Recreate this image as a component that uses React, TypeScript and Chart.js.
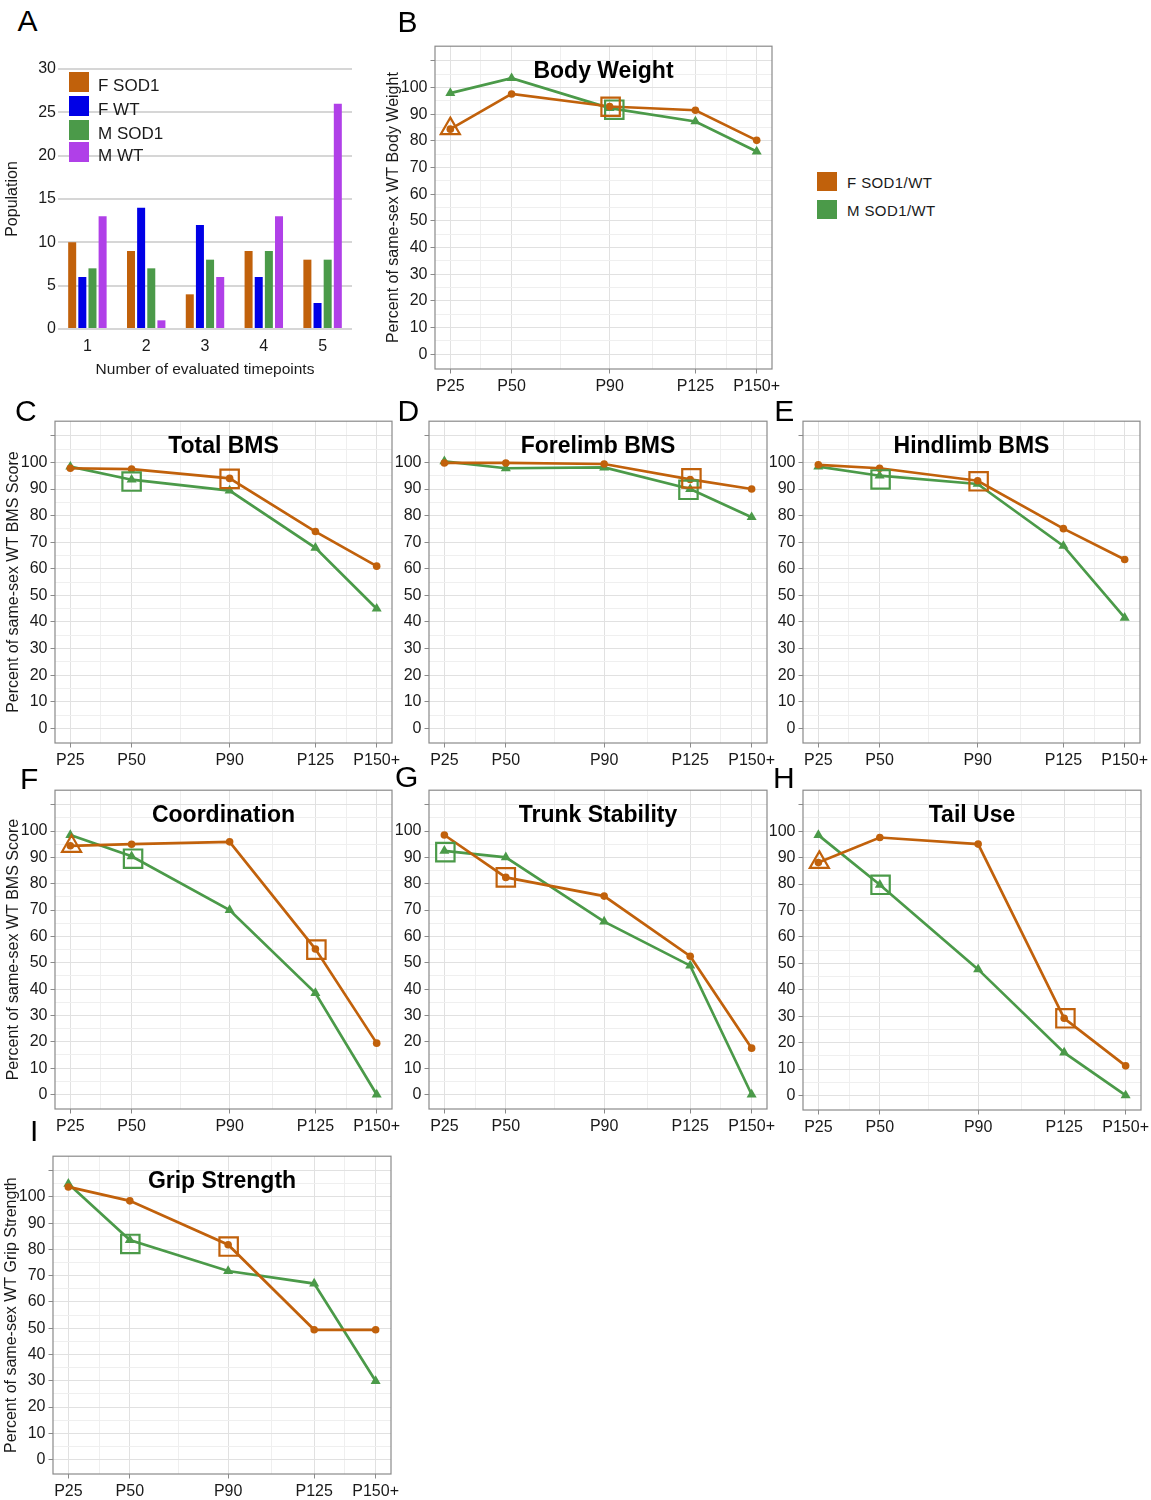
import React, { useEffect, useRef } from 'react';
import { Chart, registerables } from 'chart.js';

Chart.register(...registerables);

const FONT = '"Liberation Sans", Arial, Helvetica, sans-serif';
const ORANGE = '#c1610b';
const GREEN = '#4b9a49';
const BLUE = '#0000e6';
const PURPLE = '#b040e8';
const TEXT = '#1a1a1a';
const GRID_MAJOR = '#e1e1e1';
const GRID_MINOR = '#efefef';
const BORDER = '#8a8a8a';

Chart.defaults.font.family = FONT;
Chart.defaults.color = TEXT;

// ---------- Panel A data ----------
const popCategories = ['1', '2', '3', '4', '5'];
const popFSod1 = [10, 9, 4, 9, 8];
const popFWt = [6, 14, 12, 6, 3];
const popMSod1 = [7, 7, 8, 9, 8];
const popMWt = [13, 1, 6, 13, 26];
const popLegend = ['F SOD1', 'F WT', 'M SOD1', 'M WT'];

// ---------- Time axis ----------
const days = [25, 50, 90, 125, 150];
const dayLabels = ['P25', 'P50', 'P90', 'P125', 'P150+'];
const xTickValues = [25, 37.5, 50, 70, 90, 107.5, 125, 137.5, 150];
const yTickValues = [0, 5, 10, 15, 20, 25, 30, 35, 40, 45, 50, 55, 60, 65, 70, 75, 80, 85, 90, 95, 100, 105, 110];
const ratioLegend = ['F SOD1/WT', 'M SOD1/WT'];

// ---------- Series (percent of same-sex WT) ----------
const bodyWeightF = [84.4, 97.6, 92.9, 91.5, 80.2];
const bodyWeightM = [97.9, 103.5, 92.3, 87.3, 76.0];
const totalBmsF = [97.8, 97.5, 94.0, 74.0, 61.0];
const totalBmsM = [98.4, 93.5, 89.4, 67.9, 45.0];
const forelimbF = [99.8, 99.8, 99.4, 93.6, 90.0];
const forelimbM = [100.4, 97.8, 98.1, 90.0, 79.4];
const hindlimbF = [99.1, 97.8, 93.1, 75.1, 63.5];
const hindlimbM = [98.4, 95.0, 91.9, 68.6, 41.6];
const coordF = [94.4, 95.0, 95.9, 55.2, 19.5];
const coordM = [98.5, 90.4, 70.0, 38.5, 0];
const trunkF = [98.5, 82.4, 75.3, 52.5, 17.6];
const trunkM = [92.5, 90.0, 65.6, 48.9, 0];
const tailF = [88.1, 97.6, 95.1, 29.2, 11.2];
const tailM = [98.5, 79.7, 47.7, 16.2, 0];
const gripF = [103.8, 98.5, 81.8, 49.4, 49.4];
const gripM = [105.0, 83.6, 71.8, 67.0, 29.9];

// ---------- Significance markers ----------
type P = { x: number; y: number };
const bodyWeightFSq: P[] = [{ x: 90.4, y: 92.8 }];
const bodyWeightMSq: P[] = [{ x: 91.9, y: 91.7 }];
const bodyWeightFTri: P[] = [{ x: 25, y: 84.6 }];
const totalBmsFSq: P[] = [{ x: 90, y: 93.8 }];
const totalBmsMSq: P[] = [{ x: 50, y: 92.8 }];
const forelimbFSq: P[] = [{ x: 125.5, y: 94.0 }];
const forelimbMSq: P[] = [{ x: 124.3, y: 89.7 }];
const hindlimbFSq: P[] = [{ x: 90.4, y: 92.9 }];
const hindlimbMSq: P[] = [{ x: 50.4, y: 93.6 }];
const coordFSq: P[] = [{ x: 125.4, y: 55.0 }];
const coordMSq: P[] = [{ x: 50.6, y: 89.5 }];
const coordFTri: P[] = [{ x: 25.5, y: 94.2 }];
const trunkFSq: P[] = [{ x: 50, y: 82.4 }];
const trunkMSq: P[] = [{ x: 25.4, y: 92.0 }];
const tailFSq: P[] = [{ x: 125.5, y: 29.2 }];
const tailMSq: P[] = [{ x: 50.3, y: 79.7 }];
const tailFTri: P[] = [{ x: 25.4, y: 88.2 }];
const gripFSq: P[] = [{ x: 90.2, y: 81.1 }];
const gripMSq: P[] = [{ x: 50.2, y: 82.1 }];

const panelDecor = {
  id: 'panelDecor',
  afterDraw(chart: any, _args: any, opts: any) {
    const { ctx, chartArea } = chart;
    const { left, top, right, bottom } = chartArea;
    ctx.save();
    ctx.strokeStyle = BORDER;
    ctx.lineWidth = 1.2;
    ctx.strokeRect(left, top, right - left, bottom - top);
    if (opts && opts.title) {
      ctx.font = `bold 23px ${FONT}`;
      ctx.fillStyle = '#000';
      ctx.textAlign = 'center';
      ctx.textBaseline = 'alphabetic';
      ctx.fillText(opts.title, (left + right) / 2, top + 32);
    }
    ctx.restore();
  },
};

function CanvasChart({ left, top, width, height, makeConfig }: any) {
  const ref = useRef<HTMLCanvasElement>(null);
  useEffect(() => {
    const chart = new Chart(ref.current as HTMLCanvasElement, makeConfig());
    return () => chart.destroy();
  }, []);
  return (
    <canvas
      ref={ref}
      width={width}
      height={height}
      style={{ position: 'absolute', left, top, width, height }}
    />
  );
}

const AXIS_W = 54;
const AXIS_H = 36;
const PAD_T = 14;
const PAD_R = 25;

function markerSet(data: P[], color: string, style: string, radius: number) {
  return {
    type: 'line',
    data,
    showLine: false,
    pointStyle: style,
    pointRadius: radius,
    pointBorderWidth: 2.2,
    pointBorderColor: color,
    pointBackgroundColor: 'rgba(0,0,0,0)',
    borderColor: color,
  };
}

function LinePanel({ L, T, W, H, title, yTitle, f, m, fSq = [], mSq = [], fTri = [] }: any) {
  const makeConfig = () => {
    const toPts = (vals: number[]) => days.map((d, i) => ({ x: d, y: vals[i] }));
    return {
      type: 'line',
      data: {
        datasets: [
          markerSet(fSq, ORANGE, 'rect', 13),
          markerSet(mSq, GREEN, 'rect', 13),
          markerSet(fTri, ORANGE, 'triangle', 11),
          {
            data: toPts(f),
            borderColor: ORANGE,
            borderWidth: 2.7,
            pointStyle: 'circle',
            pointRadius: 3.8,
            pointBorderWidth: 0,
            pointBackgroundColor: ORANGE,
          },
          {
            data: toPts(m),
            borderColor: GREEN,
            borderWidth: 2.7,
            pointStyle: 'triangle',
            pointRadius: 5.8,
            pointBorderWidth: 0,
            pointBackgroundColor: GREEN,
          },
        ],
      },
      options: {
        responsive: false,
        animation: false,
        events: [],
        layout: { padding: { left: 0, top: PAD_T, right: PAD_R, bottom: 0 } },
        plugins: {
          legend: { display: false },
          tooltip: { enabled: false },
          panelDecor: { title },
        },
        scales: {
          x: {
            type: 'linear',
            min: 18.75,
            max: 156.25,
            afterBuildTicks: (s: any) => {
              s.ticks = xTickValues.map((v) => ({ value: v }));
            },
            afterFit: (s: any) => {
              s.height = AXIS_H;
            },
            ticks: {
              autoSkip: false,
              maxRotation: 0,
              minRotation: 0,
              padding: 3,
              color: TEXT,
              font: { family: FONT, size: 16 },
              callback: (v: number) => {
                const i = days.indexOf(v);
                return i >= 0 ? dayLabels[i] : '';
              },
            },
            grid: {
              color: (c: any) => (c.tick && days.includes(c.tick.value) ? GRID_MAJOR : GRID_MINOR),
              lineWidth: 1,
              tickLength: 4.5,
              tickColor: (c: any) => (c.tick && days.includes(c.tick.value) ? BORDER : 'rgba(0,0,0,0)'),
            },
            border: { display: false },
          },
          y: {
            type: 'linear',
            min: -5.5,
            max: 115.5,
            afterBuildTicks: (s: any) => {
              s.ticks = yTickValues.map((v) => ({ value: v }));
            },
            afterFit: (s: any) => {
              s.width = AXIS_W;
            },
            ticks: {
              autoSkip: false,
              padding: 3,
              color: TEXT,
              font: { family: FONT, size: 16 },
              callback: (v: number) => (v % 10 === 0 && v <= 100 ? String(v) : ''),
            },
            grid: {
              color: (c: any) => (c.tick && c.tick.value % 10 === 0 ? GRID_MAJOR : GRID_MINOR),
              lineWidth: 1,
              tickLength: 4.5,
              tickColor: (c: any) => (c.tick && c.tick.value % 10 === 0 ? BORDER : 'rgba(0,0,0,0)'),
            },
            border: { display: false },
            title: {
              display: !!yTitle,
              text: yTitle || '',
              color: TEXT,
              font: { family: FONT, size: 16 },
              padding: { top: 3, bottom: 3 },
            },
          },
        },
      },
      plugins: [panelDecor],
    };
  };
  return (
    <CanvasChart
      left={L - AXIS_W}
      top={T - PAD_T}
      width={AXIS_W + W + PAD_R}
      height={PAD_T + H + AXIS_H}
      makeConfig={makeConfig}
    />
  );
}

function PopulationPanel() {
  const makeConfig = () => {
    const common = { barPercentage: 0.79, categoryPercentage: 0.69, borderWidth: 0 };
    return {
      type: 'bar',
      data: {
        labels: popCategories,
        datasets: [
          { label: popLegend[0], data: popFSod1, backgroundColor: ORANGE, ...common },
          { label: popLegend[1], data: popFWt, backgroundColor: BLUE, ...common },
          { label: popLegend[2], data: popMSod1, backgroundColor: GREEN, ...common },
          { label: popLegend[3], data: popMWt, backgroundColor: PURPLE, ...common },
        ],
      },
      options: {
        responsive: false,
        animation: false,
        events: [],
        layout: { padding: { left: 0, top: 14, right: 10, bottom: 0 } },
        plugins: { legend: { display: false }, tooltip: { enabled: false } },
        scales: {
          x: {
            grid: { display: false },
            border: { display: false },
            afterFit: (s: any) => {
              s.height = 54;
            },
            ticks: { padding: 0, color: TEXT, font: { family: FONT, size: 16 } },
            title: {
              display: true,
              text: 'Number of evaluated timepoints',
              color: TEXT,
              font: { family: FONT, size: 15.5 },
              padding: { top: 4, bottom: 4 },
            },
          },
          y: {
            min: 0,
            max: 30,
            afterFit: (s: any) => {
              s.width = 58;
            },
            ticks: { stepSize: 5, padding: 2, color: TEXT, font: { family: FONT, size: 16 } },
            grid: { color: '#d6d6d6', lineWidth: 2, drawTicks: false },
            border: { display: false },
            title: {
              display: true,
              text: 'Population',
              color: TEXT,
              font: { family: FONT, size: 16 },
              padding: { top: 3, bottom: 3 },
            },
          },
        },
      },
    };
  };
  return <CanvasChart left={0} top={55} width={362} height={328} makeConfig={makeConfig} />;
}

const letterStyle = (left: number, top: number): React.CSSProperties => ({
  position: 'absolute',
  left,
  top,
  fontFamily: FONT,
  fontSize: 30,
  lineHeight: '30px',
  color: '#000',
});

const panelLetters: [string, number, number][] = [
  ['A', 17.5, 6.3],
  ['B', 397.6, 6.5],
  ['C', 15, 396],
  ['D', 397.6, 396],
  ['E', 774.3, 396],
  ['F', 20, 763.5],
  ['G', 395, 762],
  ['H', 773, 763],
  ['I', 30, 1116],
];

export default function App() {
  const popColors = [ORANGE, BLUE, GREEN, PURPLE];
  const popTops = [72, 96, 120, 142];
  return (
    <div
      style={{
        position: 'absolute',
        left: 0,
        top: 0,
        width: 1151,
        height: 1500,
        background: '#fff',
        overflow: 'hidden',
      }}
    >
      <PopulationPanel />
      <LinePanel L={435} T={45} W={337} H={324} title="Body Weight" yTitle="Percent of same-sex WT Body Weight"
        f={bodyWeightF} m={bodyWeightM} fSq={bodyWeightFSq} mSq={bodyWeightMSq} fTri={bodyWeightFTri} />
      <LinePanel L={55} T={420} W={337} H={323} title="Total BMS" yTitle="Percent of same-sex WT BMS Score"
        f={totalBmsF} m={totalBmsM} fSq={totalBmsFSq} mSq={totalBmsMSq} />
      <LinePanel L={429} T={420} W={338} H={323} title="Forelimb BMS"
        f={forelimbF} m={forelimbM} fSq={forelimbFSq} mSq={forelimbMSq} />
      <LinePanel L={803} T={420} W={337} H={323} title="Hindlimb BMS"
        f={hindlimbF} m={hindlimbM} fSq={hindlimbFSq} mSq={hindlimbMSq} />
      <LinePanel L={55} T={789} W={337} H={320} title="Coordination" yTitle="Percent of same-sex WT BMS Score"
        f={coordF} m={coordM} fSq={coordFSq} mSq={coordMSq} fTri={coordFTri} />
      <LinePanel L={429} T={789} W={338} H={320} title="Trunk Stability"
        f={trunkF} m={trunkM} fSq={trunkFSq} mSq={trunkMSq} />
      <LinePanel L={803} T={789} W={338} H={321} title="Tail Use"
        f={tailF} m={tailM} fSq={tailFSq} mSq={tailMSq} fTri={tailFTri} />
      <LinePanel L={53} T={1155} W={338} H={319} title="Grip Strength" yTitle="Percent of same-sex WT Grip Strength"
        f={gripF} m={gripM} fSq={gripFSq} mSq={gripMSq} />

      {popLegend.map((name, i) => (
        <React.Fragment key={name}>
          <div style={{ position: 'absolute', left: 69, top: popTops[i], width: 20, height: 20, background: popColors[i] }} />
          <div
            style={{
              position: 'absolute',
              left: 98,
              top: popTops[i] + 3.8,
              fontFamily: FONT,
              fontSize: 17,
              lineHeight: '20px',
              color: TEXT,
              whiteSpace: 'nowrap',
            }}
          >
            {name}
          </div>
        </React.Fragment>
      ))}

      {ratioLegend.map((name, i) => (
        <React.Fragment key={name}>
          <div
            style={{
              position: 'absolute',
              left: 817,
              top: i === 0 ? 172 : 199.5,
              width: 20,
              height: 19,
              background: i === 0 ? ORANGE : GREEN,
            }}
          />
          <div
            style={{
              position: 'absolute',
              left: 847,
              top: i === 0 ? 173 : 200.8,
              fontFamily: FONT,
              fontSize: 15,
              lineHeight: '20px',
              letterSpacing: 0.4,
              color: TEXT,
              whiteSpace: 'nowrap',
            }}
          >
            {name}
          </div>
        </React.Fragment>
      ))}

      {panelLetters.map(([t, x, y]) => (
        <div key={t} style={letterStyle(x, y)}>
          {t}
        </div>
      ))}
    </div>
  );
}
